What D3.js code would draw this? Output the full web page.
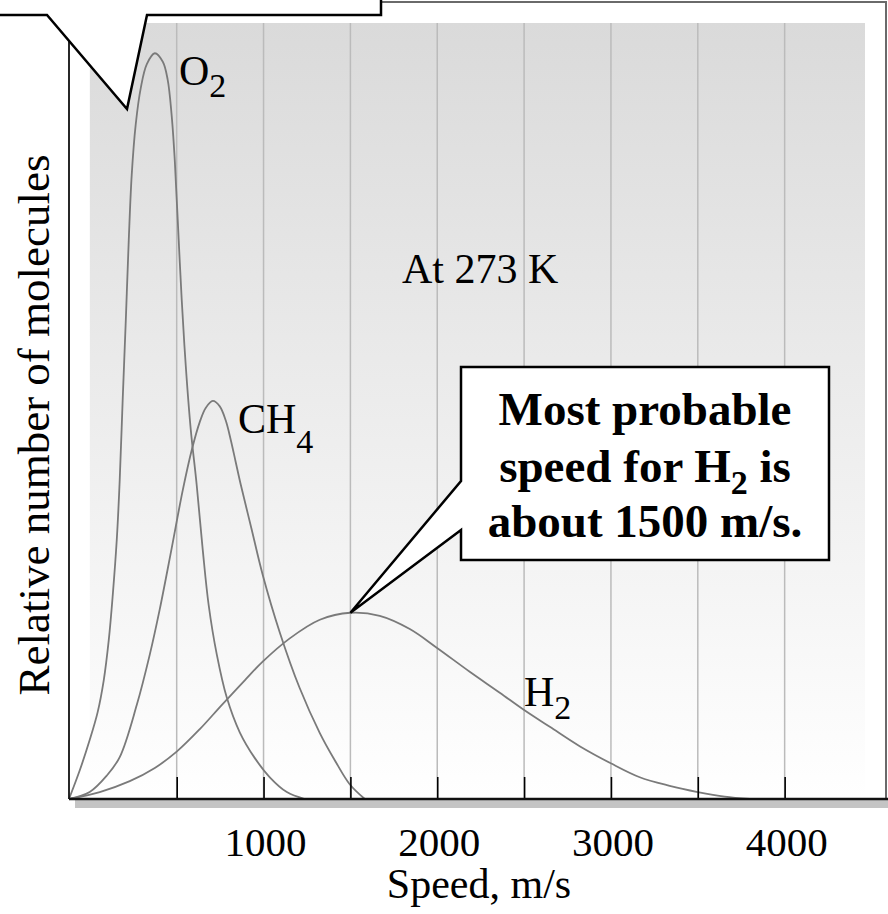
<!DOCTYPE html>
<html>
<head>
<meta charset="utf-8">
<script src="https://cdn.jsdelivr.net/npm/d3@7"></script>
<style>
  html, body { margin: 0; padding: 0; background: #fff; }
  svg { display: block; }
  text { font-family: "Liberation Serif", "Times New Roman", serif; fill: #000; }
</style>
</head>
<body>
<svg id="chart" width="888" height="914"></svg>
<script>
// Speed distributions at 273 K, read as (speed in m/s, relative number of molecules)
const o2Speed = [-120, -58, -1, 45, 80, 109, 132, 155, 172, 189, 207, 224, 241, 264, 293, 328, 374, 420, 448, 471, 489, 506, 529, 552, 581, 615, 650, 684, 731, 788, 863, 949, 1036, 1134, 1237];
const o2Count = [0, 3.7, 7.6, 11.2, 15.3, 20.5, 26.3, 33.4, 41.1, 51.4, 61.7, 72.0, 80.4, 86.9, 91.6, 94.7, 96.1, 95.0, 92.7, 88.1, 82.3, 74.6, 64.3, 55.9, 47.6, 40.5, 32.1, 25.0, 18.6, 13.1, 8.6, 5.3, 2.8, 0.9, 0];

const ch4Speed = [-120, -1, 97, 172, 270, 345, 402, 471, 535, 587, 633, 667, 708, 748, 782, 811, 840, 869, 932, 995, 1093, 1208, 1324, 1410, 1496, 1583];
const ch4Count = [0, 0.9, 3.0, 5.4, 12.1, 18.6, 24.4, 32.3, 39.8, 45.0, 48.6, 50.4, 51.3, 50.6, 48.8, 46.3, 43.4, 40.5, 34.7, 28.9, 21.5, 14.3, 8.5, 5.0, 1.9, 0];

const h2Speed = [-120, 57, 230, 374, 500, 633, 759, 892, 995, 1151, 1324, 1500, 1669, 1842, 1997, 2187, 2360, 2498, 2648, 2820, 2999, 3166, 3338, 3500, 3655, 3799];
const h2Count = [0, 0.9, 2.3, 4.0, 6.1, 9.0, 12.1, 15.3, 17.7, 20.7, 23.1, 24.0, 23.6, 21.9, 19.5, 16.4, 13.7, 11.5, 9.3, 6.8, 4.6, 2.8, 1.7, 0.9, 0.3, 0];

const gridSpeeds = [500, 1000, 1500, 2000, 2500, 3000, 3500, 4000];
const tickLabels = [1000, 2000, 3000, 4000];

const svg = d3.select("#chart");

// Axis frame: the drawn origin sits a little left of 0 m/s
const x = d3.scaleLinear().domain([-120, 4595]).range([69, 888]);
const y = d3.scaleLinear().domain([0, 100]).range([799, 23]);

// Soft grey wash behind the curves
const defs = svg.append("defs");
const grad = defs.append("linearGradient").attr("id", "wash")
  .attr("x1", 0).attr("y1", 0).attr("x2", 0).attr("y2", 1);
grad.append("stop").attr("offset", "0%").attr("stop-color", "#dadada");
grad.append("stop").attr("offset", "100%").attr("stop-color", "#ffffff");

svg.append("rect")
  .attr("x", x(0)).attr("y", y(100))
  .attr("width", 865 - x(0)).attr("height", y(0) - y(100))
  .attr("fill", "url(#wash)");

// Vertical grid lines every 500 m/s
svg.append("g").selectAll("line").data(gridSpeeds).join("line")
  .attr("x1", d => x(d)).attr("x2", d => x(d))
  .attr("y1", y(100)).attr("y2", y(0))
  .attr("stroke", "#bbbbbb").attr("stroke-width", 1.5);

// Distribution curves
const line = d3.line()
  .x(d => x(d[0])).y(d => y(d[1]))
  .curve(d3.curveCatmullRom.alpha(0.5));

const series = [
  d3.zip(o2Speed, o2Count),
  d3.zip(ch4Speed, ch4Count),
  d3.zip(h2Speed, h2Count)
];
svg.append("g").selectAll("path").data(series).join("path")
  .attr("d", line)
  .attr("fill", "none")
  .attr("stroke", "#7a7a7a")
  .attr("stroke-width", 1.8);

// Outer frame (top and right)
svg.append("path")
  .attr("d", `M0,2 H886 V${y(0)}`)
  .attr("fill", "none").attr("stroke", "#6a6a6a").attr("stroke-width", 2);

// Shadow under the speed axis
svg.append("rect")
  .attr("x", 75).attr("y", y(0) + 1)
  .attr("width", 888 - 75).attr("height", 8)
  .attr("fill", "#c4c4c4");

// Speed axis with inward ticks
const xAxis = d3.axisBottom(x)
  .tickValues(gridSpeeds)
  .tickSize(-22)
  .tickFormat("");
const ax = svg.append("g").attr("transform", `translate(0,${y(0)})`).call(xAxis);
ax.select(".domain").remove();
ax.selectAll(".tick line").attr("stroke", "#000").attr("stroke-width", 1.6);

svg.append("line")
  .attr("x1", x(-120)).attr("x2", 888)
  .attr("y1", y(0)).attr("y2", y(0))
  .attr("stroke", "#111").attr("stroke-width", 2.5);

// Vertical axis line
svg.append("line")
  .attr("x1", x(-120)).attr("x2", x(-120))
  .attr("y1", 30).attr("y2", y(0))
  .attr("stroke", "#111").attr("stroke-width", 1.8);

// Tick labels
svg.append("g").selectAll("text").data(tickLabels).join("text")
  .attr("x", d => x(d) + 2).attr("y", 856)
  .attr("text-anchor", "middle")
  .attr("font-size", 41)
  .text(d => d);

// Axis titles
svg.append("text")
  .attr("x", 479).attr("y", 898)
  .attr("text-anchor", "middle").attr("font-size", 42)
  .text("Speed, m/s");

svg.append("text")
  .attr("transform", "translate(49,425) rotate(-90)")
  .attr("text-anchor", "middle").attr("font-size", 45)
  .text("Relative number of molecules");

// Curve labels with subscripts
function formula(xPos, yPos, main, sub, drop) {
  const t = svg.append("text").attr("x", xPos).attr("y", yPos).attr("font-size", 42);
  t.append("tspan").text(main);
  t.append("tspan").attr("dy", drop).attr("font-size", 34).text(sub);
}
formula(179, 85, "O", "2", 12);
formula(238, 433, "CH", "4", 20);
formula(524, 706, "H", "2", 13);

svg.append("text")
  .attr("x", 402).attr("y", 283).attr("font-size", 42)
  .text("At 273 K");

// Callout pointing at the H2 peak
const peakX = x(1500), peakY = y(24.0);
svg.append("path")
  .attr("d", `M461,367 H829 V560 H461 V530 L${peakX},${peakY} L461,481 Z`)
  .attr("fill", "#fff").attr("stroke", "#000").attr("stroke-width", 2.5)
  .attr("stroke-linejoin", "miter");

const calloutLines = [
  { y: 425, parts: [["Most probable", 0]] },
  { y: 482, parts: [["speed for H", 0], ["2", 12], [" is", -12]] },
  { y: 537, parts: [["about 1500 m/s.", 0]] }
];
calloutLines.forEach(l => {
  const t = svg.append("text")
    .attr("x", 645).attr("y", l.y)
    .attr("text-anchor", "middle")
    .attr("font-size", 47).attr("font-weight", "bold");
  l.parts.forEach(([s, dy]) => {
    const sp = t.append("tspan").text(s);
    if (dy) sp.attr("dy", dy);
    if (s === "2") sp.attr("font-size", 34);
  });
});

// Callout pointing at the O2 peak (box runs off the top edge)
const o2TipX = 127, o2TipY = 109;
svg.append("path")
  .attr("d", `M-10,-60 H381 V15 H147 L${o2TipX},${o2TipY} L47,15 H-10 Z`)
  .attr("fill", "#fff").attr("stroke", "#000").attr("stroke-width", 2.5);
svg.append("text")
  .attr("x", 180).attr("y", -1)
  .attr("text-anchor", "middle")
  .attr("font-size", 46).attr("font-weight", "bold")
  .text("about 400 m/s.");
</script>
</body>
</html>
